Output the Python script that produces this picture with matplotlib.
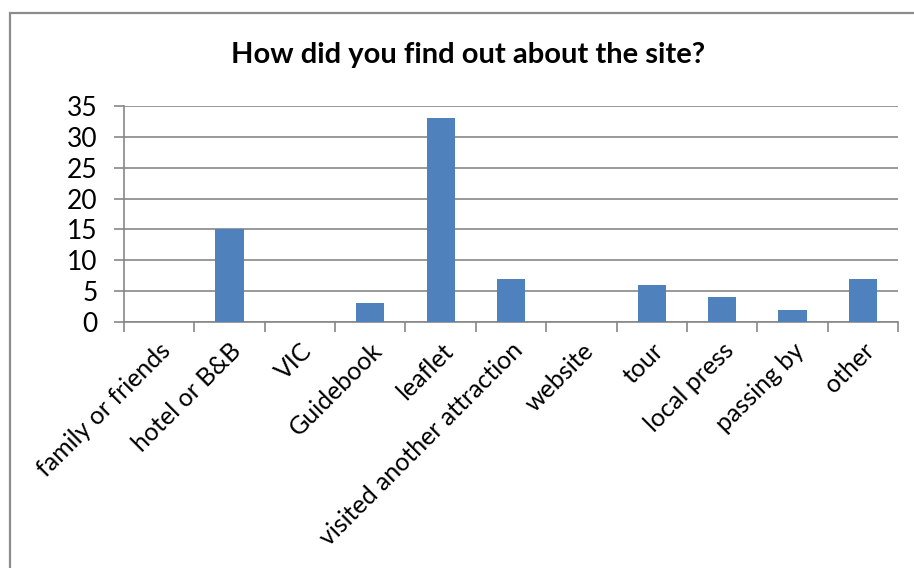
import matplotlib
matplotlib.use("Agg")
import matplotlib.pyplot as plt
from matplotlib.patches import Rectangle
import numpy as np

categories = ["family or friends", "hotel or B&B", "VIC", "Guidebook", "leaflet",
              "visited another attraction", "website", "tour", "local press",
              "passing by", "other"]
counts = [0, 15, 0, 3, 33, 7, 0, 6, 4, 2, 7]
y_ticks = [0, 5, 10, 15, 20, 25, 30, 35]
title = "How did you find out about the site?"

W, H = 914, 568
fig = plt.figure(figsize=(W / 100, H / 100), dpi=100)
fig.patch.set_facecolor("white")

font = "Lato"
grey = "#878787"

# chart frame
fig.patches.append(Rectangle((10 / W, -0.05), 1.1, 1 - 13 / H + 0.05,
                             transform=fig.transFigure, fill=False,
                             edgecolor="#8c8c8c", linewidth=1.6, zorder=0))

ax = fig.add_axes([124 / W, 1 - 322 / H, (898 - 124) / W, (322 - 106) / H])
x = np.arange(len(categories))
ax.bar(x, counts, width=0.4, color="#4F81BD", zorder=3)

ax.set_xlim(-0.5, len(categories) - 0.5)
ax.set_ylim(0, 35)
ax.set_yticks(y_ticks)
ax.yaxis.grid(True, color=grey, linewidth=1.2, zorder=0)
ax.set_axisbelow(True)

for s in ["top", "right"]:
    ax.spines[s].set_visible(False)
for s in ["left", "bottom"]:
    ax.spines[s].set_color(grey)
    ax.spines[s].set_linewidth(1.2)

ax.tick_params(axis="y", length=7, width=1.2, color=grey, labelsize=19, pad=12)
ax.set_xticks(x)
ax.set_xticks(np.arange(-0.5, len(categories), 1.0), minor=True)
ax.tick_params(axis="x", which="major", length=0, pad=12)
ax.tick_params(axis="x", which="minor", length=7, width=1.2, color=grey)
ax.set_xticklabels(categories, rotation=45, ha="right", rotation_mode="anchor",
                   fontsize=18, family=font)
for lab in ax.get_yticklabels():
    lab.set_family(font)

fig.text(468 / W, 1 - 55 / H, title, ha="center", va="center",
         fontsize=21, fontweight="bold", family=font)

fig.savefig("out.png", dpi=100)
